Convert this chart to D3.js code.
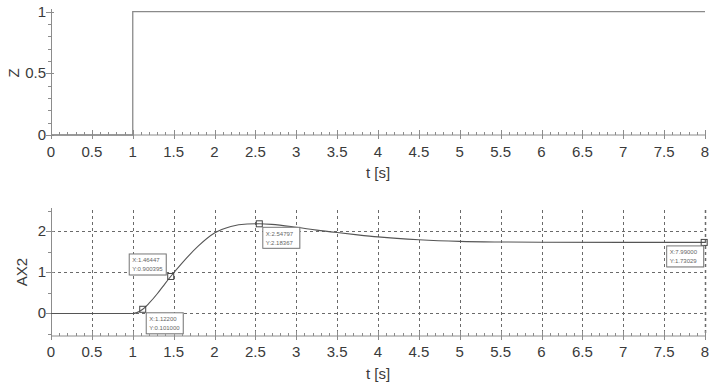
<!DOCTYPE html>
<html>
<head>
<meta charset="utf-8">
<script src="https://cdn.jsdelivr.net/npm/d3@7"></script>
<style>
  html, body { margin: 0; padding: 0; background: #fff; }
  svg { display: block; font-family: "Liberation Sans", Arial, sans-serif; }
</style>
</head>
<body>
<svg id="chart" width="709" height="386"></svg>
<script>
// Input signal Z: unit step at t = 1 s
const stepTimes = [0, 1, 1, 8];
const stepValues = [0, 0, 1, 1];

// Response AX2 sampled over time
const respTimes = [0, 1.0, 1.05, 1.122, 1.2, 1.3, 1.4, 1.464, 1.6, 1.8, 2.0, 2.2, 2.4, 2.548, 2.7, 3.0, 3.25, 3.5, 3.75, 4.0, 4.5, 5.0, 5.5, 6.0, 7.0, 7.99, 8.0];
const respValues = [0, 0, 0.02, 0.101, 0.25, 0.48, 0.74, 0.9004, 1.22, 1.64, 1.96, 2.12, 2.178, 2.1837, 2.17, 2.1, 2.03, 1.97, 1.915, 1.865, 1.795, 1.755, 1.74, 1.734, 1.731, 1.7303, 1.7303];

// Data tips on the response curve
const tipX = [1.122, 1.46447, 2.54797, 7.99];
const tipY = [0.101, 0.900395, 2.18367, 1.73029];
const tipTextX = ["X:1.12200", "X:1.46447", "X:2.54797", "X:7.99000"];
const tipTextY = ["Y:0.101000", "Y:0.900395", "Y:2.18367", "Y:1.73029"];
const tipSide = ["br", "tl", "br", "bl"];

// Tick labels
const xTicks = d3.range(0, 8.001, 0.5);
const xTickLabels = ["0","0.5","1","1.5","2","2.5","3","3.5","4","4.5","5","5.5","6","6.5","7","7.5","8"];
const zTicks = [0, 0.5, 1];
const zTickLabels = ["0", "0.5", "1"];
const axTicks = [0, 1, 2];
const axTickLabels = ["0", "1", "2"];

const svg = d3.select("#chart");
const axisCol = "#8c8c8c";
const textCol = "#3a3a3a";

const x = d3.scaleLinear().domain([0, 8]).range([51, 705]);
const yTop = d3.scaleLinear().domain([0, 1]).range([135, 11.7]);
const yBot = d3.scaleLinear().domain([-0.55, 2.52]).range([336, 210]);

function drawXAxis(yPos, labelY, titleY) {
  const g = svg.append("g");
  g.append("line").attr("x1", x(0)).attr("x2", x(8)).attr("y1", yPos).attr("y2", yPos)
    .attr("stroke", axisCol);
  // minor ticks every 0.1
  g.selectAll(".mn").data(d3.range(0, 81).map(i => i / 10)).enter().append("line")
    .attr("x1", d => Math.round(x(d)) + 0.5).attr("x2", d => Math.round(x(d)) + 0.5)
    .attr("y1", yPos - 3).attr("y2", yPos).attr("stroke", axisCol);
  g.selectAll(".mj").data(xTicks).enter().append("line")
    .attr("x1", d => Math.round(x(d)) + 0.5).attr("x2", d => Math.round(x(d)) + 0.5)
    .attr("y1", yPos - 5).attr("y2", yPos + 4).attr("stroke", axisCol);
  g.selectAll(".lb").data(xTicks).enter().append("text")
    .attr("x", d => x(d)).attr("y", labelY).attr("text-anchor", "middle")
    .attr("font-size", 15).attr("fill", textCol)
    .text((d, i) => xTickLabels[i]);
  g.append("text").attr("x", x(4)).attr("y", titleY).attr("text-anchor", "middle")
    .attr("font-size", 15).attr("fill", textCol).text("t [s]");
}

function drawYAxis(scale, ticks, labels, minorStep, lo, hi, top, bottom) {
  const g = svg.append("g");
  g.append("line").attr("x1", 51.5).attr("x2", 51.5).attr("y1", top).attr("y2", bottom)
    .attr("stroke", axisCol);
  const minors = d3.range(Math.round(lo / minorStep), Math.round(hi / minorStep) + 1).map(i => i * minorStep);
  g.selectAll(".mn").data(minors).enter().append("line")
    .attr("x1", 48).attr("x2", 51.5)
    .attr("y1", d => Math.round(scale(d)) + 0.5).attr("y2", d => Math.round(scale(d)) + 0.5)
    .attr("stroke", axisCol);
  g.selectAll(".mj").data(ticks).enter().append("line")
    .attr("x1", 46).attr("x2", 54)
    .attr("y1", d => Math.round(scale(d)) + 0.5).attr("y2", d => Math.round(scale(d)) + 0.5)
    .attr("stroke", axisCol);
  g.selectAll(".lb").data(ticks).enter().append("text")
    .attr("x", 46).attr("y", d => scale(d) + 5).attr("text-anchor", "end")
    .attr("font-size", 15).attr("fill", textCol)
    .text((d, i) => labels[i]);
}

// ---------- top panel: Z ----------
drawXAxis(135, 157, 178);
drawYAxis(yTop, zTicks, zTickLabels, 0.1, 0, 1, 9, 135);
svg.append("text").attr("transform", "translate(19,73) rotate(-90)")
  .attr("text-anchor", "middle").attr("font-size", 15).attr("fill", textCol).text("Z");

const lineTop = d3.line().x(d => x(d[0])).y(d => yTop(d[1]));
svg.append("path").datum(stepTimes.map((t, i) => [t, stepValues[i]]))
  .attr("d", lineTop).attr("fill", "none").attr("stroke", "#8a8a8a").attr("stroke-width", 1.3);

// ---------- bottom panel: AX2 ----------
const grid = svg.append("g").attr("stroke", "#6a6a6a").attr("stroke-dasharray", "3,3");
grid.selectAll(".v").data(xTicks.slice(1)).enter().append("line")
  .attr("x1", d => Math.round(x(d)) + 0.5).attr("x2", d => Math.round(x(d)) + 0.5)
  .attr("y1", 210).attr("y2", 336)
  .attr("stroke-width", d => d === 8 ? 1.5 : 1);
grid.selectAll(".h").data(axTicks).enter().append("line")
  .attr("x1", 52).attr("x2", 705)
  .attr("y1", d => Math.round(yBot(d)) + 0.5).attr("y2", d => Math.round(yBot(d)) + 0.5);

drawXAxis(336, 357, 379);
drawYAxis(yBot, axTicks, axTickLabels, 0.5, -0.5, 2.5, 208, 336);
svg.append("text").attr("transform", "translate(27,272) rotate(-90)")
  .attr("text-anchor", "middle").attr("font-size", 15).attr("fill", textCol).text("AX2");

const lineBot = d3.line().curve(d3.curveMonotoneX).x(d => x(d[0])).y(d => yBot(d[1]));
svg.append("path").datum(respTimes.map((t, i) => [t, respValues[i]]))
  .attr("d", lineBot).attr("fill", "none").attr("stroke", "#555").attr("stroke-width", 1.1);

// data tips
const tips = svg.append("g");
tipX.forEach((tx, i) => {
  const px = x(tx), py = yBot(tipY[i]);
  tips.append("rect").attr("x", px - 3).attr("y", py - 3).attr("width", 6).attr("height", 6)
    .attr("fill", "none").attr("stroke", "#444").attr("stroke-width", 1);
  const w = 37, h = 21;
  let bx, by;
  if (tipSide[i] === "br") { bx = px + 3; by = py + 3; }
  else if (tipSide[i] === "tl") { bx = px - 42; by = py - 23; }
  else { bx = px - 38; by = py + 3; }
  tips.append("rect").attr("x", bx + 1).attr("y", by + 1).attr("width", w).attr("height", h)
    .attr("fill", "#d0d0d0");
  tips.append("rect").attr("x", bx + 0.5).attr("y", by + 0.5).attr("width", w).attr("height", h)
    .attr("fill", "#fff").attr("stroke", "#777").attr("stroke-width", 1);
  tips.append("text").attr("x", bx + 3.5).attr("y", by + 9).attr("font-size", 6)
    .attr("fill", "#666").text(tipTextX[i]);
  tips.append("text").attr("x", bx + 3.5).attr("y", by + 18).attr("font-size", 6)
    .attr("fill", "#666").text(tipTextY[i]);
});
</script>
</body>
</html>
